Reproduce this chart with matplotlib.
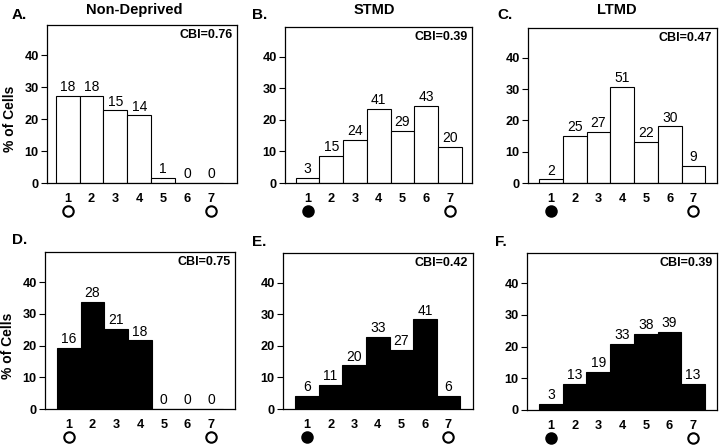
import matplotlib
matplotlib.use("Agg")
import matplotlib.pyplot as plt
import numpy as np
from matplotlib.transforms import offset_copy

plt.rcParams["font.family"] = ["Liberation Sans", "DejaVu Sans"]

# ocular dominance groups 1..7, cell counts per panel
BINS = [1, 2, 3, 4, 5, 6, 7]
COUNTS_A = [18, 18, 15, 14, 1, 0, 0]
COUNTS_B = [3, 15, 24, 41, 29, 43, 20]
COUNTS_C = [2, 25, 27, 51, 22, 30, 9]
COUNTS_D = [16, 28, 21, 18, 0, 0, 0]
COUNTS_E = [6, 11, 20, 33, 27, 41, 6]
COUNTS_F = [3, 13, 19, 33, 38, 39, 13]
ALL_COUNTS = [COUNTS_A, COUNTS_B, COUNTS_C, COUNTS_D, COUNTS_E, COUNTS_F]

LETTERS = ["A.", "B.", "C.", "D.", "E.", "F."]
TITLES = ["Non-Deprived", "STMD", "LTMD"]
CBI = [0.76, 0.39, 0.47, 0.75, 0.42, 0.39]
FIRST_EYE_DEPRIVED = [False, True, True, False, True, True]

W, H = 720, 447
# panel boxes in pixels: left, right, top, bottom(y=0)
BOXES = [(47, 237, 25, 183), (285, 472, 27, 183), (528, 717, 28, 183),
         (45, 235, 252, 409), (283, 473, 253, 409), (527, 717, 253, 410)]
XLIMS = [(0.14, 8.08), (0.05, 7.93), (0.03, 7.99),
         (0.0, 8.0), (-0.02, 8.04), (-0.01, 8.01)]
LETTER_POS = [(12, 15), (252, 15), (497, 15), (12, 240), (252, 242), (495, 242)]
TITLE_POS = [(134, 10), (374, 10), (617, 10)]
YTOP = 49.5

fig = plt.figure(figsize=(W / 100, H / 100), dpi=100, facecolor="white")

for i, counts in enumerate(ALL_COUNTS):
    left, right, top, bottom = BOXES[i]
    ax = fig.add_axes([left / W, 1 - bottom / H, (right - left) / W, (bottom - top) / H])
    pct = np.array(counts) / sum(counts) * 100
    fill = "white" if i < 3 else "black"
    ax.bar(BINS, pct, width=1.0, color=fill, edgecolor="black", linewidth=0.8)
    for x, p, c in zip(BINS, pct, counts):
        ax.annotate(str(c), (x, p), xytext=(0, 1.2), textcoords="offset points",
                    ha="center", va="bottom", fontsize=10)
    ax.set_xlim(*XLIMS[i])
    ax.set_ylim(0, YTOP)
    ax.set_yticks([0, 10, 20, 30, 40])
    ax.set_xticks(BINS)
    ax.tick_params(axis="y", direction="out", length=4.5, width=0.8, pad=1.5, labelsize=9.2)
    ax.tick_params(axis="x", length=0, pad=7.5, labelsize=9.2)
    for lab in ax.get_xticklabels() + ax.get_yticklabels():
        lab.set_fontweight("bold")
    for spine in ax.spines.values():
        spine.set_linewidth(0.9)
    ax.text(0.975, 0.975, f"CBI={CBI[i]:.2f}", transform=ax.transAxes,
            ha="right", va="top", fontsize=9, fontweight="bold")

    # eye symbols below groups 1 and 7
    trans = offset_copy(ax.get_xaxis_transform(), fig=fig, y=-28, units="dots")
    ax.plot([1], [0], marker="o", ms=7.5, mec="black", mew=1.5,
            mfc="black" if FIRST_EYE_DEPRIVED[i] else "white",
            transform=trans, clip_on=False)
    ax.plot([7], [0], marker="o", ms=7.5, mec="black", mew=1.5, mfc="white",
            transform=trans, clip_on=False)

    if i % 3 == 0:
        ax.set_ylabel("% of Cells", fontsize=10, fontweight="bold")
        ax.yaxis.set_label_coords(-0.16, 20 / YTOP)

    lx, ly = LETTER_POS[i]
    fig.text(lx / W, 1 - ly / H, LETTERS[i], ha="left", va="center",
             fontsize=11, fontweight="bold")

for (tx, ty), title in zip(TITLE_POS, TITLES):
    fig.text(tx / W, 1 - ty / H, title, ha="center", va="center",
             fontsize=10.5, fontweight="bold")

fig.savefig("out.png", dpi=100, facecolor="white")
